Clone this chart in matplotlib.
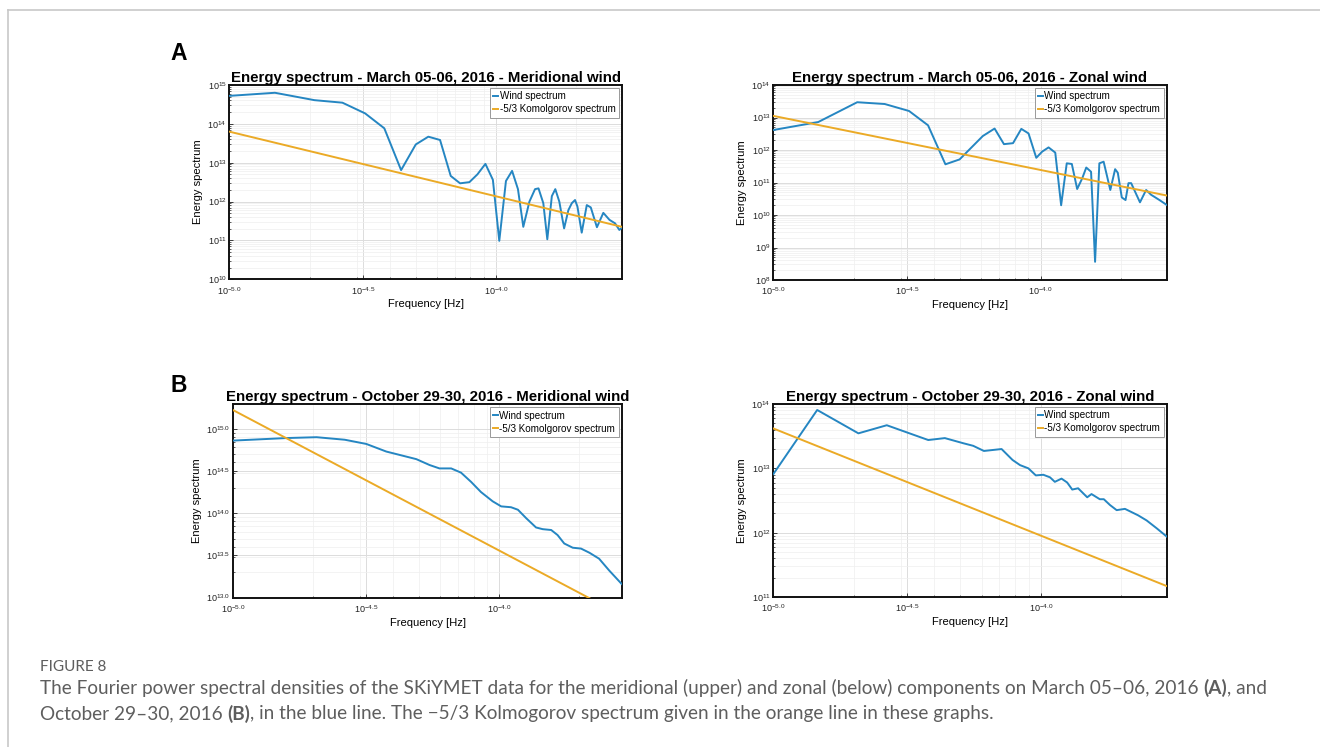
import matplotlib
matplotlib.use('Agg')
import numpy as np
import matplotlib.pyplot as plt
from matplotlib.ticker import FixedLocator, LogLocator, NullFormatter

plt.rcParams['font.family'] = ['Liberation Sans', 'DejaVu Sans']
plt.rcParams['mathtext.fontset'] = 'custom'
plt.rcParams['mathtext.rm'] = 'Liberation Sans'
plt.rcParams['mathtext.it'] = 'Liberation Sans:italic'
plt.rcParams['mathtext.bf'] = 'Liberation Sans:bold'

W, H = 1320, 747

# ---- data (log10 frequency [Hz], log10 energy) ----
# March 05-06, 2016 - meridional
a1_logf = [-5.0, -4.829, -4.681, -4.576, -4.491, -4.419, -4.356, -4.301, -4.254, -4.210,
           -4.170, -4.135, -4.100, -4.070, -4.040, -4.012, -3.988, -3.963, -3.940, -3.918,
           -3.898, -3.875, -3.854, -3.841, -3.823, -3.808, -3.791, -3.778, -3.763, -3.745,
           -3.729, -3.716, -3.704, -3.695, -3.679, -3.660, -3.645, -3.622, -3.598, -3.575,
           -3.554, -3.538, -3.528]
a1_loge = [14.72, 14.80, 14.61, 14.545, 14.27, 13.886, 12.81, 13.47, 13.67, 13.585,
           12.66, 12.47, 12.50, 12.70, 12.97, 12.56, 10.99, 12.53, 12.79, 12.32,
           11.35, 12.00, 12.32, 12.34, 11.96, 11.03, 12.14, 12.32, 12.00, 11.31,
           11.78, 11.96, 12.04, 11.87, 11.20, 11.91, 11.85, 11.34, 11.71, 11.53,
           11.44, 11.27, 11.33]

# March 05-06, 2016 - zonal
a2_logf = [-5.0, -4.832, -4.686, -4.583, -4.492, -4.421, -4.356, -4.303, -4.216, -4.172,
           -4.137, -4.103, -4.072, -4.045, -4.016, -3.994, -3.970, -3.945, -3.923, -3.902,
           -3.883, -3.863, -3.844, -3.829, -3.811, -3.796, -3.780, -3.764, -3.739, -3.721,
           -3.711, -3.696, -3.682, -3.671, -3.661, -3.628, -3.605, -3.586, -3.555, -3.528]
a2_loge = [12.615, 12.86, 13.47, 13.415, 13.20, 12.76, 11.56, 11.71, 12.43, 12.66,
           12.18, 12.21, 12.65, 12.51, 11.76, 11.95, 12.08, 11.92, 10.30, 11.59,
           11.57, 10.80, 11.13, 11.46, 11.33, 8.56, 11.59, 11.64, 10.77, 11.41,
           11.30, 10.54, 10.46, 10.98, 10.98, 10.39, 10.77, 10.62, 10.46, 10.31]

# October 29-30, 2016 - meridional
b1_logf = [-5.0, -4.800, -4.687, -4.581, -4.500, -4.425, -4.312, -4.262, -4.225, -4.181,
           -4.144, -4.106, -4.069, -4.025, -3.993, -3.956, -3.930, -3.899, -3.862, -3.837,
           -3.805, -3.781, -3.756, -3.724, -3.693, -3.661, -3.625, -3.587, -3.540]
b1_loge = [14.86, 14.89, 14.90, 14.87, 14.82, 14.73, 14.64, 14.57, 14.53, 14.53,
           14.48, 14.37, 14.25, 14.14, 14.08, 14.07, 14.04, 13.94, 13.83, 13.81,
           13.80, 13.74, 13.64, 13.59, 13.58, 13.53, 13.46, 13.32, 13.16]

# October 29-30, 2016 - zonal
b2_logf = [-5.0, -4.836, -4.682, -4.576, -4.421, -4.359, -4.290, -4.253, -4.213, -4.147,
           -4.106, -4.078, -4.047, -4.019, -3.991, -3.966, -3.948, -3.923, -3.902, -3.883,
           -3.861, -3.827, -3.811, -3.780, -3.765, -3.742, -3.717, -3.686, -3.637, -3.605,
           -3.568, -3.530]
b2_loge = [12.91, 13.907, 13.544, 13.67, 13.44, 13.47, 13.39, 13.35, 13.27, 13.30,
           13.13, 13.05, 13.00, 12.89, 12.90, 12.86, 12.79, 12.84, 12.78, 12.67,
           12.69, 12.55, 12.60, 12.52, 12.52, 12.43, 12.35, 12.37, 12.27, 12.19,
           12.07, 11.94]

# -5/3 Kolmogorov reference line: log10 energy at the two ends of the frequency axis
kolm_a1 = [13.80, 11.35]
kolm_a2 = [13.05, 10.60]
kolm_b1 = [15.22, 12.79]
kolm_b2 = [13.62, 11.17]

titles = ['Energy spectrum - March 05-06, 2016 - Meridional wind',
          'Energy spectrum - March 05-06, 2016 - Zonal wind',
          'Energy spectrum - October 29-30, 2016 - Meridional wind',
          'Energy spectrum - October 29-30, 2016 - Zonal wind']

x_ticks = [-5.0, -4.5, -4.0]
y_ticks_a1 = [10, 11, 12, 13, 14, 15]
y_ticks_a2 = [8, 9, 10, 11, 12, 13, 14]
y_ticks_b1 = [13.0, 13.5, 14.0, 14.5, 15.0]
y_ticks_b2 = [11, 12, 13, 14]

BLUE = '#2586c2'
ORANGE = '#ebaa26'


def px_box(left, right, top, bottom):
    return [left / W, 1 - bottom / H, (right - left) / W, (bottom - top) / H]


def spectrum_panel(ax, logf, loge, kolm, xlog_max, ylog, yticks, ydec, title):
    f = 10.0 ** np.array(logf)
    ax.plot(f, 10.0 ** np.array(loge), color=BLUE, lw=1.4, label='Wind spectrum', zorder=3)
    ax.plot([1e-5, 10 ** xlog_max], 10.0 ** np.array(kolm), color=ORANGE, lw=1.4,
            label='-5/3 Komolgorov spectrum', zorder=3)
    ax.set_xscale('log')
    ax.set_yscale('log')
    ax.set_xlim(1e-5, 10 ** xlog_max)
    ax.set_ylim(10 ** ylog[0], 10 ** ylog[1])

    ax.xaxis.set_major_locator(FixedLocator([10 ** v for v in x_ticks]))
    ax.set_xticklabels(['$10^{%.1f}$' % v for v in x_ticks])
    ax.xaxis.set_minor_locator(LogLocator(base=10, subs=np.arange(2, 10)))
    ax.xaxis.set_minor_formatter(NullFormatter())

    ax.yaxis.set_major_locator(FixedLocator([10 ** v for v in yticks]))
    if ydec:
        ax.set_yticklabels(['$10^{%.1f}$' % v for v in yticks])
    else:
        ax.set_yticklabels(['$10^{%d}$' % v for v in yticks])
    ax.yaxis.set_minor_locator(LogLocator(base=10, subs=np.arange(2, 10)))
    ax.yaxis.set_minor_formatter(NullFormatter())

    ax.grid(True, which='major', color='#dcdcdc', lw=0.7, zorder=0)
    ax.grid(True, which='minor', color='#efefef', lw=0.5, zorder=0)
    ax.tick_params(which='both', direction='in', labelsize=6.5, colors='#222222')
    ax.tick_params(axis='x', pad=4)
    ax.tick_params(axis='y', pad=2)
    ax.tick_params(which='major', length=3, width=0.6)
    ax.tick_params(which='minor', length=1.5, width=0.5)
    for s in ax.spines.values():
        s.set_linewidth(1.4)
        s.set_color('#111111')

    ax.set_title(title, fontsize=10.8, fontweight='bold', pad=1.5)
    ax.set_xlabel('Frequency [Hz]', fontsize=8, labelpad=2)
    ax.set_ylabel('Energy spectrum', fontsize=8, labelpad=3)
    leg = ax.legend(loc='upper right', fontsize=7.1, handlelength=0.5, handletextpad=0.15,
                    borderpad=0.35, labelspacing=0.3, borderaxespad=0.3, fancybox=False,
                    framealpha=1)
    leg.get_frame().set_edgecolor('#999999')
    leg.get_frame().set_linewidth(0.7)


fig = plt.figure(figsize=(W / 100, H / 100), dpi=100)

# outer frame of the figure page
fig.add_artist(plt.Line2D([8 / W, 1], [1 - 10 / H, 1 - 10 / H], color='#c8c8c8', lw=1.2))
fig.add_artist(plt.Line2D([8 / W, 8 / W], [1 - 10 / H, 0], color='#c8c8c8', lw=1.2))

ax1 = fig.add_axes(px_box(229.3, 622, 85, 279.3))
ax2 = fig.add_axes(px_box(773.3, 1166.7, 85, 280))
ax3 = fig.add_axes(px_box(233.3, 621.7, 404.3, 597.5))
ax4 = fig.add_axes(px_box(773.3, 1166.7, 404, 597))

spectrum_panel(ax1, a1_logf, a1_loge, kolm_a1, -3.528, (10, 15), y_ticks_a1, False, titles[0])
spectrum_panel(ax2, a2_logf, a2_loge, kolm_a2, -3.528, (8, 14), y_ticks_a2, False, titles[1])
spectrum_panel(ax3, b1_logf, b1_loge, kolm_b1, -3.540, (13, 15.29), y_ticks_b1, True, titles[2])
spectrum_panel(ax4, b2_logf, b2_loge, kolm_b2, -3.530, (11, 14), y_ticks_b2, False, titles[3])

fig.text(170 / W, 1 - 53 / H, 'A', fontsize=16.5, fontweight='bold', va='center')
fig.text(170 / W, 1 - 385 / H, 'B', fontsize=16.5, fontweight='bold', va='center')

# caption
cap_font = ['Lato', 'Liberation Sans', 'DejaVu Sans']
cap_color = '#5e5e5e'
fig.text(40 / W, 1 - 667 / H, 'FIGURE 8', fontsize=11, color=cap_color,
         family=cap_font, va='center')

line1 = [('The Fourier power spectral densities of the SKiYMET data for the meridional (upper) '
          'and zonal (below) components on March 05\u201306, 2016 ', 'normal'),
         ('(A)', 'bold'), (', and', 'normal')]
line2 = [('October 29\u201330, 2016 ', 'normal'), ('(B)', 'bold'),
         (', in the blue line. The \u22125/3 Kolmogorov spectrum given in the orange line '
          'in these graphs.', 'normal')]

renderer = fig.canvas.get_renderer()


def place_line(pieces, ypix, size):
    xpix = 40
    for txt, wt in pieces:
        t = fig.text(xpix / W, 1 - ypix / H, txt, fontsize=size, color=cap_color,
                     family=cap_font, fontweight=wt, va='center')
        xpix += t.get_window_extent(renderer).width
    return xpix


# fit the first caption line to the reference width
probe = [fig.text(0, 0, txt, fontsize=10, family=cap_font, fontweight=wt)
         for txt, wt in line1]
width10 = sum(p.get_window_extent(renderer).width for p in probe)
for p in probe:
    p.remove()
cap_size = 10 * (1273 - 40) / width10

place_line(line1, 688, cap_size)
place_line(line2, 714, cap_size)

fig.savefig('out.png', dpi=100)
